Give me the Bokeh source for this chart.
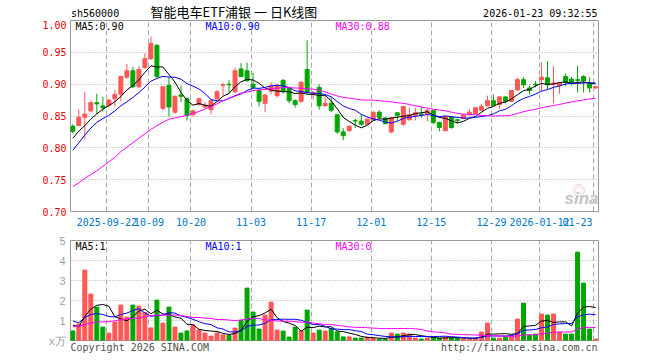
from bokeh.plotting import figure
from bokeh.layouts import column
from bokeh.models import Range1d, FixedTicker, PrintfTickFormatter, Label, ColumnDataSource
from bokeh.embed import file_html
from bokeh.resources import INLINE

# ---------------- data ----------------
opens = [0.834, 0.835, 0.848, 0.858, 0.871, 0.866, 0.867, 0.877, 0.884, 0.911,
         0.921, 0.896, 0.926, 0.940, 0.961, 0.862, 0.898, 0.856, 0.883, 0.877,
         0.852, 0.868, 0.864, 0.860, 0.877, 0.898, 0.900, 0.888, 0.924, 0.921,
         0.900, 0.890, 0.870, 0.889, 0.882, 0.906, 0.893, 0.874, 0.873, 0.923,
         0.885, 0.895, 0.866, 0.870, 0.852, 0.825, 0.827, 0.843, 0.842, 0.837,
         0.844, 0.856, 0.847, 0.825, 0.855, 0.837, 0.844, 0.851, 0.853, 0.853,
         0.859, 0.840, 0.827, 0.849, 0.844, 0.846, 0.852, 0.854, 0.859, 0.866,
         0.874, 0.868, 0.880, 0.873, 0.891, 0.907, 0.894, 0.900, 0.907, 0.910,
         0.900, 0.898, 0.912, 0.908, 0.907, 0.912, 0.901, 0.894]
highs = [0.837, 0.860, 0.888, 0.874, 0.885, 0.880, 0.877, 0.891, 0.913, 0.932,
         0.927, 0.928, 0.949, 0.975, 0.963, 0.897, 0.911, 0.882, 0.898, 0.880,
         0.860, 0.879, 0.872, 0.876, 0.891, 0.902, 0.906, 0.926, 0.933, 0.934,
         0.918, 0.893, 0.885, 0.903, 0.900, 0.908, 0.895, 0.876, 0.905, 0.969,
         0.889, 0.900, 0.882, 0.880, 0.852, 0.831, 0.835, 0.846, 0.853, 0.846,
         0.857, 0.859, 0.848, 0.848, 0.856, 0.865, 0.863, 0.863, 0.865, 0.861,
         0.860, 0.841, 0.850, 0.850, 0.846, 0.853, 0.861, 0.864, 0.869, 0.882,
         0.884, 0.881, 0.881, 0.891, 0.910, 0.911, 0.898, 0.905, 0.934, 0.936,
         0.928, 0.903, 0.917, 0.911, 0.929, 0.914, 0.911, 0.896]
lows = [0.823, 0.834, 0.813, 0.856, 0.853, 0.857, 0.864, 0.865, 0.873, 0.908,
        0.894, 0.894, 0.924, 0.938, 0.910, 0.859, 0.849, 0.853, 0.872, 0.843,
        0.849, 0.866, 0.862, 0.853, 0.875, 0.882, 0.885, 0.886, 0.911, 0.903,
        0.893, 0.865, 0.856, 0.885, 0.879, 0.885, 0.870, 0.863, 0.871, 0.885,
        0.876, 0.860, 0.865, 0.856, 0.822, 0.812, 0.825, 0.831, 0.835, 0.836,
        0.843, 0.845, 0.837, 0.823, 0.842, 0.835, 0.843, 0.843, 0.847, 0.842,
        0.837, 0.826, 0.826, 0.830, 0.838, 0.845, 0.851, 0.853, 0.858, 0.865,
        0.866, 0.861, 0.870, 0.872, 0.890, 0.894, 0.884, 0.895, 0.889, 0.891,
        0.870, 0.885, 0.897, 0.898, 0.887, 0.887, 0.887, 0.893]
closes = [0.826, 0.848, 0.853, 0.871, 0.869, 0.863, 0.875, 0.884, 0.912, 0.921,
          0.896, 0.923, 0.940, 0.964, 0.912, 0.896, 0.864, 0.881, 0.881, 0.851,
          0.858, 0.877, 0.867, 0.874, 0.888, 0.899, 0.899, 0.921, 0.912, 0.906,
          0.895, 0.873, 0.883, 0.897, 0.898, 0.889, 0.874, 0.868, 0.903, 0.887,
          0.887, 0.866, 0.870, 0.859, 0.825, 0.819, 0.834, 0.842, 0.837, 0.845,
          0.856, 0.848, 0.838, 0.847, 0.851, 0.865, 0.852, 0.855, 0.852, 0.859,
          0.840, 0.832, 0.849, 0.832, 0.843, 0.852, 0.856, 0.863, 0.865, 0.874,
          0.867, 0.880, 0.873, 0.890, 0.907, 0.899, 0.890, 0.899, 0.911, 0.899,
          0.902, 0.902, 0.903, 0.901, 0.906, 0.905, 0.894, 0.896]
volumes = [0.48, 0.82, 3.52, 2.32, 1.67, 0.67, 0.37, 0.92, 1.77, 1.17,
           1.77, 1.72, 1.40, 0.63, 2.02, 0.87, 1.67, 0.67, 0.37, 0.48,
           0.77, 0.52, 0.37, 0.22, 0.38, 0.28, 0.25, 0.62, 1.00, 2.62,
           1.42, 0.57, 1.27, 1.92, 0.52, 0.47, 0.17, 0.67, 0.50, 1.52,
           0.37, 0.52, 0.47, 0.60, 0.43, 0.18, 0.18, 0.12, 0.12, 0.17,
           0.10, 0.07, 0.07, 0.37, 0.32, 0.37, 0.32, 0.12, 0.07, 0.12,
           0.17, 0.12, 0.17, 0.12, 0.12, 0.12, 0.07, 0.12, 0.42, 0.87,
           0.12, 0.12, 0.17, 0.27, 1.07, 1.87, 0.27, 0.32, 1.32, 1.27,
           1.32, 0.42, 0.32, 0.32, 4.42, 2.87, 0.57, 0.07]

# moving averages at the left edge (their windows start before the chart)
ma5_head = [0.815, 0.826, 0.835, 0.845]
ma10_head = [0.796, 0.808, 0.820, 0.831, 0.840, 0.846, 0.851, 0.858, 0.866]
ma30_head = [0.739, 0.745, 0.752, 0.758, 0.764, 0.771, 0.778, 0.785, 0.794, 0.801,
             0.808, 0.815, 0.822, 0.829, 0.835, 0.840, 0.845, 0.847, 0.849, 0.851,
             0.854, 0.857, 0.861, 0.865, 0.869, 0.874, 0.878, 0.882, 0.886]
vma5_head = [0.77, 0.68, 1.21, 1.56]
vma10_head = [0.98, 0.88, 1.15, 1.30, 1.35, 1.30, 1.20, 1.18, 1.30]
vma30_head = [0.68, 0.72, 0.80, 0.88, 0.92, 0.93, 0.95, 0.98, 1.05, 1.08,
              1.10, 1.12, 1.20, 1.25, 1.27, 1.27, 1.27, 1.27, 1.25, 1.20,
              1.15, 1.15, 1.12, 1.10, 1.05, 1.05, 1.02, 1.00, 1.02]

date_labels = ["2025-09-22", "10-09", "10-20", "11-03", "11-17",
               "12-01", "12-15", "12-29", "2026-01-12", "01-23"]
date_index = [6, 13, 20, 30, 40, 50, 60, 70, 78, 87]
price_ticks = [0.70, 0.75, 0.80, 0.85, 0.90, 0.95, 1.00]
vol_ticks = [0, 1, 2, 3, 4, 5]
vol_unit = "x万"

code = "sh560000"
title = "智能电车ETF浦银 一 日K线图"
stamp = "2026-01-23 09:32:55"
copyright_text = "Copyright 2026 SINA.COM"
url_text = "http://finance.sina.com.cn"

# ---------------- derived ----------------
def moving(vals, n, head):
    out = list(head)
    for i in range(len(head), len(vals)):
        out.append(sum(vals[i - n + 1:i + 1]) / n)
    return out

n = len(closes)
xs = list(range(n))
ma5 = moving(closes, 5, ma5_head)
ma10 = moving(closes, 10, ma10_head)
ma30 = moving(closes, 30, ma30_head)
vma5 = moving(volumes, 5, vma5_head)
vma10 = moving(volumes, 10, vma10_head)
vma30 = moving(volumes, 30, vma30_head)

RED = "#ff5656"
GREEN = "#00a600"
colors = [RED if c >= o else GREEN for o, c in zip(opens, closes)]
src = ColumnDataSource(dict(
    x=xs, o=opens, h=highs, l=lows, c=closes, v=volumes,
    top=[max(o, c) for o, c in zip(opens, closes)],
    bot=[min(o, c) for o, c in zip(opens, closes)],
    color=colors))

# pixel geometry helpers
X0, DX = 72.3, 6.009
def fx(px):
    return (px - X0) / DX
def fy1(py):
    return 1.0 - (py - 20) * 0.30 / 191

MONO = "DejaVu Sans Mono"
GRID = "#a8a8a8"
FRAME = "#999999"

grid_pos = [i - 2.0 / DX for i in date_index]
label_pos = list(grid_pos)
label_pos[-1] = fx(577)  # last label shifted left so it stays inside

def style(p):
    p.outline_line_color = FRAME
    p.outline_line_width = 1
    p.background_fill_color = "white"
    p.border_fill_color = "white"
    for ax in p.axis:
        ax.axis_line_color = None
        ax.major_tick_line_color = None
        ax.minor_tick_line_color = None
        ax.major_tick_out = 0
        ax.major_tick_in = 0
        ax.minor_tick_out = 0
        ax.minor_tick_in = 0
    p.xgrid.ticker = FixedTicker(ticks=grid_pos)
    p.xgrid.grid_line_color = GRID
    p.xgrid.grid_line_dash = "5 3"
    p.ygrid.grid_line_color = GRID
    p.ygrid.grid_line_dash = "1 2"

xr = Range1d(fx(70), fx(598))

# ---------------- header strip ----------------
hd = figure(width=660, height=20, x_range=xr, y_range=Range1d(20, 0),
            output_backend="svg", toolbar_location=None, title_location=None,
            x_axis_location=None, y_axis_location=None,
            min_border_left=70, min_border_right=62, min_border_top=0, min_border_bottom=0)
hd.grid.visible = False
hd.outline_line_color = None
hd.border_fill_color = "white"
hd.background_fill_color = "white"

def hlab(text, px, py, align="left", font=MONO, size="10px"):
    hd.add_layout(Label(x=fx(px), y=py, text=text, text_color="black", text_align=align,
                        text_baseline="middle", text_font=font, text_font_size=size))

hlab(code, 70.5, 13)
hlab(title, 150, 10.5, font="Noto Sans CJK SC", size="13px")
hlab(stamp, 597, 13, align="right")

# ---------------- price panel ----------------
p1 = figure(width=660, height=210, x_range=xr, y_range=Range1d(0.70, 1.00),
            output_backend="svg", toolbar_location=None, title_location=None,
            min_border_left=70, min_border_right=62, min_border_top=0, min_border_bottom=19)
style(p1)
p1.ygrid.ticker = FixedTicker(ticks=price_ticks[1:-1])
p1.yaxis.ticker = FixedTicker(ticks=price_ticks)
p1.yaxis.formatter = PrintfTickFormatter(format="%.2f")
p1.yaxis.major_label_text_color = "#e60000"
p1.yaxis.major_label_text_font = MONO
p1.yaxis.major_label_text_font_size = "10px"
p1.yaxis.major_label_standoff = 4
p1.xaxis.ticker = FixedTicker(ticks=label_pos)
p1.xaxis.major_label_overrides = {pos: lab for pos, lab in zip(label_pos, date_labels)}
p1.xaxis.major_label_text_color = "#0078c8"
p1.xaxis.major_label_text_font = MONO
p1.xaxis.major_label_text_font_size = "10px"
p1.xaxis.major_label_standoff = 6

p1.segment(x0="x", y0="l", x1="x", y1="h", line_color="color", line_width=1, source=src)
p1.vbar(x="x", width=0.66, top="top", bottom="bot", fill_color="color",
        line_color="color", line_width=1, source=src)
p1.line(xs, ma5, line_color="black", line_width=1)
p1.line(xs, ma10, line_color="#0000ff", line_width=1)
p1.line(xs, ma30, line_color="#ff00ff", line_width=1)

def lab1(text, px, py, color="black", font=MONO, size="10px", style_="normal"):
    p1.add_layout(Label(x=fx(px), y=fy1(py), text=text, text_color=color, text_align="left",
                        text_baseline="middle", text_font=font, text_font_size=size,
                        text_font_style=style_))

lab1("MA5:%.2f" % ma5[-1], 75, 26)
lab1("MA10:%.2f" % ma10[-1], 205, 26, color="#0000ff")
lab1("MA30:%.2f" % ma30[-1], 335, 26, color="#ff00ff")
# watermark logo
lab1("◎", 572, 189, color="#f2b8b8", font="Noto Sans CJK SC", size="13px")
lab1("sina", 564, 198, color="#c4c4c4", font="Liberation Sans", size="17px",
     style_="bold italic")

# ---------------- volume panel ----------------
p2 = figure(width=660, height=130, x_range=xr, y_range=Range1d(0, 5),
            output_backend="svg", toolbar_location=None, title_location=None,
            min_border_left=70, min_border_right=62, min_border_top=10, min_border_bottom=20)
style(p2)
p2.ygrid.ticker = FixedTicker(ticks=vol_ticks[1:-1])
p2.yaxis.ticker = FixedTicker(ticks=vol_ticks)
p2.yaxis.formatter = PrintfTickFormatter(format="%d")
p2.yaxis.major_label_overrides = {0: vol_unit}
p2.yaxis.major_label_text_color = "#a0a0a0"
p2.yaxis.major_label_text_font = "Liberation Sans"
p2.yaxis.major_label_text_font_size = "11px"
p2.yaxis.major_label_standoff = 5
# footer texts carried by the lower axis
copy_w = len(copyright_text) * 6.02
url_w = len(url_text) * 6.02
foot_pos = [fx(70 + copy_w / 2), fx(597 - url_w / 2)]
p2.xaxis.ticker = FixedTicker(ticks=foot_pos)
p2.xaxis.major_label_overrides = {foot_pos[0]: copyright_text, foot_pos[1]: url_text}
p2.xaxis.major_label_text_color = "#505050"
p2.xaxis.major_label_text_font = MONO
p2.xaxis.major_label_text_font_size = "10px"
p2.xaxis.major_label_standoff = 1

p2.vbar(x="x", width=0.66, top="v", bottom=0, fill_color="color",
        line_color="color", line_width=1, source=src)
p2.line(xs, vma5, line_color="black", line_width=1)
p2.line(xs, vma10, line_color="#0000ff", line_width=1)
p2.line(xs, vma30, line_color="#ff00ff", line_width=1)

def lab2(text, px, py, color="black"):
    p2.add_layout(Label(x=fx(px), y=(340 - py) / 20, text=text, text_color=color,
                        text_align="left", text_baseline="middle", text_font=MONO,
                        text_font_size="10px"))

lab2("MA5:%d" % int(vma5[-1]), 75, 246)
lab2("MA10:%d" % int(vma10[-1]), 205, 246, color="#0000ff")
lab2("MA30:%d" % int(vma30[-1]), 335, 246, color="#ff00ff")

layout = column(hd, p1, p2)
open("out.html", "w").write(file_html(layout, INLINE))
